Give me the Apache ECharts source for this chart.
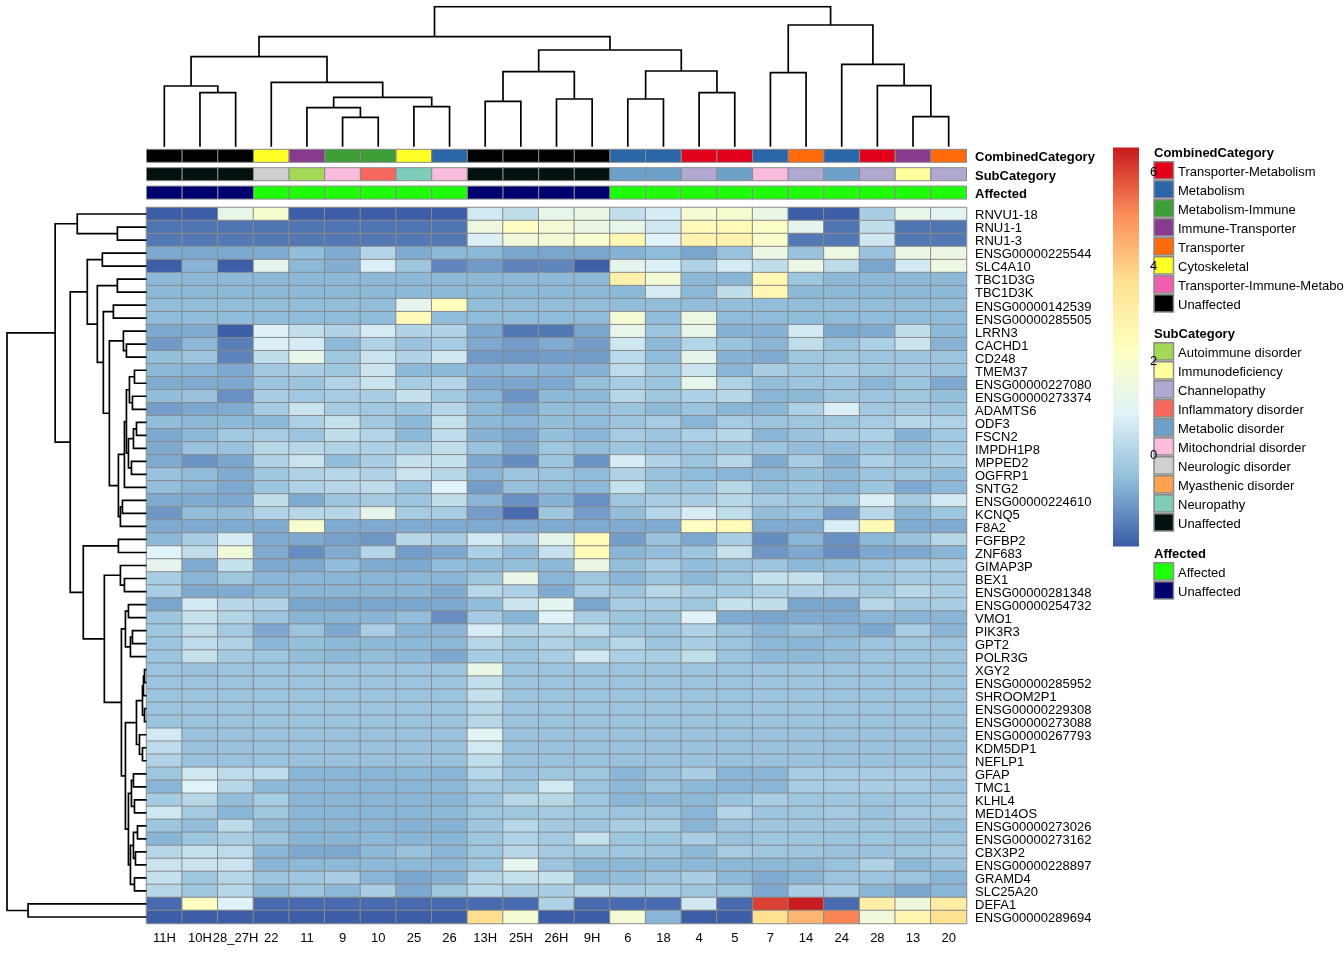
<!DOCTYPE html>
<html><head><meta charset="utf-8">
<script src="https://cdn.jsdelivr.net/npm/echarts@6.0.0/dist/echarts.min.js"></script>
<style>html,body{margin:0;padding:0;background:#fff}#c{width:1344px;height:960px}</style>
</head><body><div id="c"></div>
<script>
const samples = ["11H","10H","28_27H","22","11","9","10","25","26","13H","25H","26H","9H","6","18","4","5","7","14","24","28","13","20"];
const genes = ["RNVU1-18","RNU1-1","RNU1-3","ENSG00000225544","SLC4A10","TBC1D3G","TBC1D3K","ENSG00000142539","ENSG00000285505","LRRN3","CACHD1","CD248","TMEM37","ENSG00000227080","ENSG00000273374","ADAMTS6","ODF3","FSCN2","IMPDH1P8","MPPED2","OGFRP1","SNTG2","ENSG00000224610","KCNQ5","F8A2","FGFBP2","ZNF683","GIMAP3P","BEX1","ENSG00000281348","ENSG00000254732","VMO1","PIK3R3","GPT2","POLR3G","XGY2","ENSG00000285952","SHROOM2P1","ENSG00000229308","ENSG00000273088","ENSG00000267793","KDM5DP1","NEFLP1","GFAP","TMC1","KLHL4","MED14OS","ENSG00000273026","ENSG00000273162","CBX3P2","ENSG00000228897","GRAMD4","SLC25A20","DEFA1","ENSG00000289694"];
// expression values: one row per gene, columns in sample order
const values = [
[-1.95,-1.95,1.2,1.9,-1.95,-1.95,-1.95,-1.95,-1.95,0.6,0.3,1.2,1.3,0.35,0.7,1.8,1.9,1.3,-1.95,-1.95,-0.1,1.2,1.0],
[-1.6,-1.6,-1.6,-1.6,-1.6,-1.6,-1.6,-1.6,-1.6,1.5,2.2,1.7,1.3,1.2,0.55,2.5,2.5,2.1,1.1,-1.6,0.3,-1.6,-1.6],
[-1.55,-1.55,-1.55,-1.55,-1.55,-1.55,-1.55,-1.55,-1.55,0.75,1.6,1.7,1.9,2.6,0.85,2.8,2.8,2.0,-1.55,-1.55,0.55,-1.55,-1.55],
[-0.85,-0.85,-0.85,-0.8,-0.5,-0.8,0.1,-0.8,-0.6,-0.6,-0.9,-0.9,-0.9,-0.7,-0.55,-0.9,-0.4,1.3,-0.4,1.4,-0.4,1.35,1.35],
[-1.95,-0.65,-1.95,1.1,-0.6,-0.75,0.75,-0.3,-1.35,-1.05,-1.4,-1.35,-1.95,1.1,0.75,0.0,0.65,0.3,1.3,0.25,-0.9,0.6,1.4],
[-0.6,-0.6,-0.6,-0.6,-0.6,-0.6,-0.6,-0.6,-0.6,-0.6,-0.6,-0.6,-0.6,2.9,1.7,-0.6,-0.65,2.6,-0.3,-0.6,-0.6,-0.6,-0.6],
[-0.6,-0.6,-0.6,-0.6,-0.6,-0.6,-0.6,-0.6,-0.6,-0.6,-0.6,-0.6,-0.6,-0.6,0.65,-0.6,0.3,2.6,-0.6,-0.6,-0.6,-0.6,-0.6],
[-0.5,-0.5,-0.5,-0.5,-0.5,-0.5,-0.5,1.1,2.35,-0.5,-0.5,-0.5,-0.5,-0.5,-0.5,-0.5,-0.5,-0.5,-0.5,-0.5,-0.5,-0.5,-0.5],
[-0.55,-0.55,-0.55,-0.55,-0.55,-0.55,-0.55,2.5,-0.55,-0.55,-0.55,-0.55,-0.55,1.7,-0.55,1.4,-0.55,-0.55,-0.55,-0.55,-0.55,-0.55,-0.55],
[-0.85,-0.8,-1.95,0.8,0.35,0.05,0.65,0.05,0.05,-0.85,-1.55,-1.55,-0.9,1.2,-0.35,1.2,-0.7,-0.7,0.6,-0.85,-0.8,0.3,-0.6],
[-1.05,-0.6,-1.45,0.75,0.65,-0.6,0.0,-0.4,-0.15,-0.85,-1.0,-0.8,-1.0,0.55,-0.6,0.1,-0.35,-0.65,0.3,-0.35,-0.05,0.45,-0.7],
[-0.45,-0.35,-1.4,0.3,1.2,-0.3,0.45,0.05,0.55,-1.05,-1.1,-1.0,-1.0,0.2,-0.55,1.15,-0.7,-0.8,-0.3,-0.3,-0.35,-0.35,-0.35],
[-0.6,-0.65,-0.85,-0.25,-0.1,-0.3,0.5,-0.6,-0.6,-0.7,-0.65,-0.7,-0.7,0.25,-0.3,0.45,-0.65,-0.1,-0.3,-0.1,-0.3,-0.25,-0.35],
[-0.8,-0.8,-0.85,-0.35,-0.35,0.05,0.45,-0.15,0.1,-0.85,-0.9,-0.85,-0.45,-0.15,-0.35,1.15,0.0,-0.5,-0.35,-0.35,-0.65,-0.35,-0.85],
[-0.5,-0.4,-1.2,-0.1,-0.25,-0.15,-0.1,0.4,-0.25,-0.65,-1.15,-0.6,-0.6,0.15,-0.3,-0.05,0.15,-0.65,-0.6,-0.3,-0.35,-0.3,-0.45],
[-1.0,-0.85,-0.8,-0.15,0.45,-0.15,-0.25,-0.35,0.15,-0.6,-0.85,-0.5,-0.5,-0.35,-0.6,-0.35,-0.65,-0.65,-0.05,0.75,-0.25,-0.2,-0.35],
[-0.5,-0.6,-0.6,-0.6,-0.05,0.4,-0.25,-0.6,0.4,-0.6,-0.65,-0.5,-0.55,-0.35,-0.15,-0.65,-0.15,-0.35,-0.3,-0.3,-0.15,0.15,0.0],
[-0.85,-0.6,-0.25,-0.15,-0.35,0.3,0.1,-0.6,0.25,-0.7,-0.85,-0.45,-0.65,-0.15,-0.35,-0.05,0.15,-0.65,-0.4,-0.1,-0.05,-0.7,-0.25],
[-0.8,-0.4,-0.4,0.15,0.15,0.0,-0.05,-0.1,0.3,-0.4,-0.8,-0.3,-0.5,-0.3,-0.4,-0.35,-0.25,-0.35,-0.5,-0.5,-0.3,-0.5,-0.25],
[-0.8,-1.15,-0.9,0.0,0.45,-0.5,-0.1,0.4,0.4,-0.85,-1.25,-0.35,-1.15,0.7,0.0,-0.35,0.15,-0.8,-0.15,-0.7,-0.05,-0.35,-0.1],
[-0.4,-0.5,-0.8,-0.3,0.0,0.15,0.0,0.45,0.15,-0.65,-0.35,-0.35,-0.5,0.0,-0.4,-0.55,-0.65,-0.6,-0.45,-0.6,-0.35,-0.3,-0.5],
[-0.5,-0.65,-0.85,-0.3,0.0,0.15,0.25,-0.35,0.85,-1.0,-0.45,-0.5,-0.6,0.4,-0.3,-0.3,0.15,-0.5,-0.35,-0.65,-0.3,-0.85,-0.6],
[-0.8,-0.8,-0.85,0.3,-0.8,-0.35,-0.2,-0.35,0.3,-0.65,-1.2,-0.7,-1.2,-0.3,-0.1,-0.1,0.15,-0.2,-0.3,-0.3,0.75,-0.2,0.6],
[-1.1,-0.5,-0.5,0.05,0.15,0.15,1.15,-0.15,-0.15,-1.0,-1.75,-0.3,-1.0,-0.5,0.1,0.7,0.3,-0.5,-0.4,-1.0,0.15,-0.65,-0.3],
[-0.8,-0.8,-0.8,-0.8,1.9,-0.8,-0.8,-0.8,-0.8,-0.8,-0.8,-0.8,-0.8,-0.8,-0.8,2.2,2.5,-0.8,-0.8,0.7,2.5,-0.8,-0.8],
[-0.6,-0.1,0.7,-0.8,-0.85,-0.95,-1.1,0.15,-0.15,0.6,0.1,1.15,2.4,-1.0,-0.4,-0.85,-0.1,-1.25,-0.65,-1.2,-0.6,-0.4,0.15],
[0.85,0.3,1.6,-0.8,-1.25,-0.8,0.1,-1.0,-0.85,-0.05,-0.5,0.4,2.4,-0.65,-0.5,-0.3,0.4,-1.1,-0.85,-1.25,-0.85,-0.85,-0.65],
[1.1,-0.8,0.4,-0.85,-0.85,-0.5,-0.8,-0.85,-0.5,-0.6,-0.45,-0.6,1.3,-0.45,-0.1,-0.5,-0.4,-0.35,-0.6,-0.5,-0.35,-0.15,-0.1],
[-0.1,-0.65,-0.3,-0.65,-0.65,-0.65,-0.65,-0.65,-0.65,-0.3,1.25,-0.65,-0.3,-0.65,-0.35,-0.6,-0.3,0.4,0.4,-0.2,-0.3,-0.2,-0.2],
[-0.1,-0.8,-0.8,-0.65,-0.65,-0.65,-0.65,-0.65,-0.8,0.15,-0.05,-0.8,-0.1,-0.35,0.15,-0.1,-0.2,0.0,0.05,0.05,-0.2,0.15,-0.1],
[-0.9,0.6,0.15,0.0,-0.9,-0.9,-0.9,-0.9,-0.85,-0.5,0.5,1.05,-0.9,-0.15,-0.15,-0.3,0.4,0.3,-0.9,-0.9,0.15,-0.2,-0.1],
[-0.3,0.4,0.1,-0.35,-0.65,-0.65,-0.65,-0.5,-1.25,-0.15,-0.65,0.85,-0.1,-0.3,-0.3,0.85,-0.8,-0.9,-0.8,-0.8,-0.65,-0.65,-0.65],
[-0.3,0.3,-0.2,-0.85,-0.35,-0.85,-0.1,-0.65,-0.65,0.7,0.05,0.15,0.25,-0.35,-0.35,0.0,-0.35,-0.65,-0.45,-0.65,-0.85,-0.15,-0.65],
[-0.35,0.25,0.0,-0.65,-0.45,-0.6,-0.6,-0.6,-0.6,0.15,-0.3,0.0,-0.3,0.15,-0.35,-0.1,-0.35,-0.6,-0.65,-0.5,-0.35,-0.3,-0.35],
[-0.35,0.4,-0.2,-0.3,-0.5,-0.6,-0.5,-0.6,-0.85,-0.15,-0.35,-0.1,0.55,-0.05,-0.1,0.3,-0.35,-0.6,-0.6,-0.5,-0.35,-0.35,-0.35],
[-0.35,-0.4,-0.35,-0.35,-0.35,-0.35,-0.35,-0.35,-0.35,1.3,-0.35,-0.35,-0.35,-0.35,-0.35,-0.35,-0.35,-0.35,-0.35,-0.35,-0.35,-0.35,-0.35],
[-0.35,-0.35,-0.35,-0.35,-0.35,-0.35,-0.35,-0.35,-0.35,0.35,-0.35,-0.35,-0.35,-0.35,-0.35,-0.35,-0.35,-0.35,-0.35,-0.35,-0.35,-0.35,-0.35],
[-0.35,-0.35,-0.35,-0.35,-0.35,-0.35,-0.35,-0.35,-0.35,0.4,-0.35,-0.35,-0.35,-0.35,-0.35,-0.35,-0.35,-0.35,-0.35,-0.35,-0.35,-0.35,-0.35],
[-0.35,-0.35,-0.35,-0.35,-0.35,-0.35,-0.35,-0.35,-0.35,0.15,-0.35,-0.35,-0.35,-0.35,-0.35,-0.35,-0.35,-0.35,-0.35,-0.35,-0.35,-0.35,-0.35],
[-0.35,-0.35,-0.35,-0.35,-0.35,-0.35,-0.35,-0.35,-0.35,0.15,-0.35,-0.35,-0.35,-0.35,-0.35,-0.35,-0.35,-0.35,-0.35,-0.35,-0.35,-0.35,-0.35],
[0.6,-0.4,-0.4,-0.4,-0.4,-0.4,-0.4,-0.4,-0.4,0.95,-0.4,-0.4,-0.4,-0.4,-0.4,-0.4,-0.4,-0.4,-0.4,-0.4,-0.4,-0.4,-0.4],
[0.25,-0.4,-0.4,-0.4,-0.4,-0.4,-0.4,-0.4,-0.4,0.6,-0.4,-0.4,-0.4,-0.4,-0.4,-0.4,-0.4,-0.4,-0.4,-0.4,-0.4,-0.4,-0.4],
[0.05,-0.4,-0.4,-0.4,-0.4,-0.4,-0.4,-0.4,-0.4,0.3,-0.4,-0.4,-0.4,-0.4,-0.4,-0.4,-0.4,-0.4,-0.4,-0.4,-0.4,-0.4,-0.4],
[-0.3,0.55,0.25,0.25,-0.65,-0.65,-0.65,-0.6,-0.65,0.15,-0.4,-0.3,-0.3,-0.65,-0.4,-0.1,-0.65,-0.65,-0.15,-0.15,-0.15,-0.1,-0.2],
[-0.65,0.85,0.15,-0.6,-0.65,-0.65,-0.65,-0.65,-0.6,-0.2,-0.3,0.6,-0.35,-0.6,-0.35,-0.6,-0.65,-0.65,-0.15,-0.15,-0.1,-0.15,-0.35],
[-0.15,0.15,-0.5,-0.15,-0.65,-0.65,-0.65,-0.65,-0.65,-0.35,0.15,0.15,-0.3,-0.65,-0.6,-0.6,-0.35,-0.1,-0.3,-0.3,-0.35,-0.3,-0.2],
[0.55,-0.2,-0.65,-0.3,-0.65,-0.65,-0.65,-0.65,-0.6,-0.3,-0.3,-0.2,-0.3,-0.35,-0.35,-0.65,0.1,-0.35,-0.3,-0.2,-0.4,-0.2,-0.2],
[-0.3,-0.5,0.25,-0.5,-0.65,-0.65,-0.65,-0.7,-0.7,-0.3,0.15,-0.2,-0.3,-0.1,-0.1,-0.65,-0.35,-0.3,-0.3,-0.3,-0.3,-0.3,-0.45],
[-0.65,-0.3,-0.1,-0.35,-0.65,-0.65,-0.6,-0.65,-0.65,-0.3,0.0,-0.2,0.4,-0.3,-0.3,-0.1,-0.4,-0.3,-0.3,-0.35,-0.3,-0.4,-0.3],
[0.15,0.4,0.25,-0.65,-0.85,-0.85,-0.6,-0.4,-0.65,-0.3,0.15,-0.2,-0.3,-0.3,-0.35,-0.6,-0.15,-0.3,-0.35,-0.4,-0.4,-0.3,-0.2],
[0.45,0.45,0.45,-0.65,-0.6,-0.6,-0.6,-0.6,-0.6,-0.3,1.1,-0.35,-0.6,-0.6,-0.6,-0.6,-0.6,-0.6,-0.6,-0.4,0.0,-0.6,-0.4],
[0.4,-0.3,0.15,-0.35,-0.3,-0.1,-0.65,-0.9,-0.7,0.15,0.4,0.4,-0.6,-0.5,-0.35,-0.1,-0.6,-0.8,-0.65,-0.35,-0.35,-0.35,-0.65],
[0.15,-0.3,0.15,-0.6,-0.35,-0.6,-0.1,-0.85,-0.3,0.15,-0.1,-0.1,0.15,-0.1,-0.1,-0.3,-0.3,-0.85,-0.1,-0.15,-0.65,-0.9,-0.65],
[-1.75,2.2,0.85,-1.75,-1.75,-1.75,-1.75,-1.75,-1.75,-1.75,-1.75,0.0,-1.75,-1.75,-1.75,0.55,-1.75,6.0,6.45,-1.75,3.0,1.5,3.1],
[-1.95,-1.95,-1.95,-1.95,-1.95,-1.95,-1.95,-1.95,-1.95,3.7,1.75,-1.95,-1.95,1.75,-0.65,-1.95,-1.95,3.6,4.4,5.2,1.6,2.7,3.6]
];
const combinedCategory = ["Unaffected","Unaffected","Unaffected","Cytoskeletal","Immune-Transporter","Metabolism-Immune","Metabolism-Immune","Cytoskeletal","Metabolism","Unaffected","Unaffected","Unaffected","Unaffected","Metabolism","Metabolism","Transporter-Metabolism","Transporter-Metabolism","Metabolism","Transporter","Metabolism","Transporter-Metabolism","Immune-Transporter","Transporter"];
const subCategory = ["Unaffected","Unaffected","Unaffected","Neurologic disorder","Autoimmune disorder","Mitochondrial disorder","Inflammatory disorder","Neuropathy","Mitochondrial disorder","Unaffected","Unaffected","Unaffected","Unaffected","Metabolic disorder","Metabolic disorder","Channelopathy","Metabolic disorder","Mitochondrial disorder","Channelopathy","Metabolic disorder","Channelopathy","Immunodeficiency","Channelopathy"];
const affected = ["Unaffected","Unaffected","Unaffected","Affected","Affected","Affected","Affected","Affected","Affected","Unaffected","Unaffected","Unaffected","Unaffected","Affected","Affected","Affected","Affected","Affected","Affected","Affected","Affected","Affected","Affected"];
const combinedLevels = ["Transporter-Metabolism","Metabolism","Metabolism-Immune","Immune-Transporter","Transporter","Cytoskeletal","Transporter-Immune-Metabolism","Unaffected"];
const subLevels = ["Autoimmune disorder","Immunodeficiency","Channelopathy","Inflammatory disorder","Metabolic disorder","Mitochondrial disorder","Neurologic disorder","Myasthenic disorder","Neuropathy","Unaffected"];
const affectedLevels = ["Affected","Unaffected"];
const legendTicks = [0, 2, 4, 6];
// hclust-style merges: negative = leaf (1-based display order), positive = earlier merge; third = height
const colMerges = [
[-2,-3,54],[-1,1,60.7],[-6,-7,29.4],[-5,3,39],[-8,-9,40],[4,5,49.4],[-4,6,64.4],[2,7,90],
[-10,-11,45.4],[-12,-13,47.7],[9,10,75],[-14,-15,47.7],[-16,-17,54],[12,13,75.7],[11,14,96.7],[8,15,110],
[-18,-19,74],[-22,-23,30],[-21,18,61],[-20,19,82.4],[17,20,121.7],[16,21,140]
];
const rowMerges = [
[-2,-3,29],[-1,1,69],[-4,-5,44],[-6,-7,29],[-8,-9,33],[-11,-12,20],[-10,6,23],[-13,-14,12],
[-15,-16,14],[8,9,17],[-17,-18,10],[-19,11,13],[-20,-21,15],[12,13,18],[10,14,20],[15,-22,22],
[-23,-24,24],[17,-25,26],[16,18,28],[7,19,37],[5,20,43],[4,21,49],[3,22,59],[-26,-27,28],
[-29,-30,22],[-28,25,26],[-31,-32,18],[-33,-34,14],[28,-35,16],[27,29,21],[-36,-37,2],[31,-38,3],
[-39,-40,2],[32,33,4],[-42,-43,4],[-41,35,7],[34,36,10],[-44,-45,13],[-46,-47,12],[38,39,15],
[-48,-49,9],[-50,-51,11],[41,42,13],[-52,-53,12],[43,44,16],[40,45,18],[37,46,21],[30,47,25],
[26,48,42],[24,49,63],[23,50,76],[2,51,91],[-54,-55,118],[52,53,139]
];

// ---- styling ----
const FONT = '"Liberation Sans", Arial, Helvetica, sans-serif';
const palette = ["#3A5DA6","#8FBCDA","#E0F3F8","#FFFFBF","#FEE090","#FC8D59","#C8191E"];
const scaleMin = -1.96, scaleMax = 6.49;
const combinedColors = {"Transporter-Metabolism":"#E2001A","Metabolism":"#2A66A8","Metabolism-Immune":"#3E9E38","Immune-Transporter":"#873A8E","Transporter":"#FF6A0A","Cytoskeletal":"#FFFF26","Transporter-Immune-Metabolism":"#F25FB0","Unaffected":"#000000"};
const subColors = {"Autoimmune disorder":"#A3D955","Immunodeficiency":"#FFFF9E","Channelopathy":"#B0A8D0","Inflammatory disorder":"#F7695E","Metabolic disorder":"#6DA1CA","Mitochondrial disorder":"#F9BCDC","Neurologic disorder":"#D0D0D0","Myasthenic disorder":"#FFA24F","Neuropathy":"#7ECCBA","Unaffected":"#031210"};
const affectedColors = {"Affected":"#20FF0A","Unaffected":"#000070"};
const BORDER = '#8a8a8a';
const TXT_DY = 1.8;

const H = {left:146.5, top:207.5, width:820, height:716};

function dendroSegments(merges, horizontal) {
  const pos = [], hgt = [], segs = [];
  const get = r => r < 0 ? [(-r) - 1, 0] : [pos[r - 1], hgt[r - 1]];
  merges.forEach(([a, b, h], i) => {
    const [pa, ha] = get(a), [pb, hb] = get(b);
    let pts = [[pa, ha], [pa, h], [pb, h], [pb, hb]];
    if (horizontal) pts = pts.map(([p, q]) => [q, p]);
    segs.push({coords: pts});
    pos[i] = (pa + pb) / 2; hgt[i] = h;
  });
  return segs;
}

const heatData = [];
values.forEach((row, r) => row.forEach((v, c) => heatData.push([c, r, v])));

function annSeries(idx, arr, colors) {
  return {
    type: 'custom', xAxisIndex: idx, yAxisIndex: idx, silent: true,
    data: arr.map((v, i) => [i, 0]),
    renderItem: (params, api) => {
      const p = api.coord([api.value(0), api.value(1)]);
      const s = api.size([1, 1]);
      return {type: 'rect', shape: {x: p[0] - s[0] / 2, y: p[1] - s[1] / 2, width: s[0], height: s[1]},
        style: {fill: colors[arr[params.dataIndex]], stroke: BORDER, lineWidth: 1}};
    }
  };
}

const annTops = [149.3, 167.7, 186.1];
const annNames = ["CombinedCategory", "SubCategory", "Affected"];
const labelStyle = {fontSize: 13, color: '#000', fontFamily: FONT, margin: 8.5, align: 'left'};

const grids = [
  {left: H.left, top: H.top, width: H.width, height: H.height},
  {left: H.left, top: annTops[0], width: H.width, height: 13},
  {left: H.left, top: annTops[1], width: H.width, height: 13},
  {left: H.left, top: annTops[2], width: H.width, height: 13},
  {left: H.left, top: 6.7, width: H.width, height: 140},
  {left: 7, top: H.top, width: 139.5, height: H.height},
  // label-only grids (row names and annotation names), nudged to the text baseline of the reference
  {left: H.left, top: H.top + TXT_DY, width: H.width, height: H.height},
  {left: H.left, top: annTops[0] + TXT_DY, width: H.width, height: 13},
  {left: H.left, top: annTops[1] + TXT_DY, width: H.width, height: 13},
  {left: H.left, top: annTops[2] + TXT_DY, width: H.width, height: 13}
];

const xAxes = [
  {gridIndex: 0, type: 'category', data: samples, position: 'bottom', axisLine: {show: false}, axisTick: {show: false}, splitLine: {show: false},
   axisLabel: {interval: 0, fontSize: 13, color: '#000', fontFamily: FONT, margin: 8}},
  {gridIndex: 1, type: 'category', data: samples, show: false},
  {gridIndex: 2, type: 'category', data: samples, show: false},
  {gridIndex: 3, type: 'category', data: samples, show: false},
  {gridIndex: 4, type: 'value', min: -0.5, max: samples.length - 0.5, show: false},
  {gridIndex: 5, type: 'value', min: 0, max: 139, inverse: true, show: false},
  {gridIndex: 6, type: 'category', data: samples, show: false},
  {gridIndex: 7, type: 'category', data: samples, show: false},
  {gridIndex: 8, type: 'category', data: samples, show: false},
  {gridIndex: 9, type: 'category', data: samples, show: false}
];
const yAxes = [
  {gridIndex: 0, type: 'category', data: genes, inverse: true, show: false},
  {gridIndex: 1, type: 'category', data: [annNames[0]], show: false},
  {gridIndex: 2, type: 'category', data: [annNames[1]], show: false},
  {gridIndex: 3, type: 'category', data: [annNames[2]], show: false},
  {gridIndex: 4, type: 'value', min: 0, max: 140, show: false},
  {gridIndex: 5, type: 'value', min: -0.5, max: genes.length - 0.5, inverse: true, show: false},
  {gridIndex: 6, type: 'category', data: genes, inverse: true, position: 'right', axisLine: {show: false}, axisTick: {show: false}, splitLine: {show: false},
   axisLabel: Object.assign({interval: 0}, labelStyle)},
  ...annNames.map((n, i) => ({gridIndex: 7 + i, type: 'category', data: [n], position: 'right', axisLine: {show: false}, axisTick: {show: false},
   axisLabel: Object.assign({fontWeight: 'bold'}, labelStyle)}))
];

const series = [
  {type: 'heatmap', xAxisIndex: 0, yAxisIndex: 0, data: heatData, silent: true,
   itemStyle: {borderColor: BORDER, borderWidth: 1}, emphasis: {disabled: true}},
  annSeries(1, combinedCategory, combinedColors),
  annSeries(2, subCategory, subColors),
  annSeries(3, affected, affectedColors),
  {type: 'lines', coordinateSystem: 'cartesian2d', xAxisIndex: 4, yAxisIndex: 4, polyline: true, silent: true,
   data: dendroSegments(colMerges, false), lineStyle: {color: '#000', width: 1.7, opacity: 1}},
  {type: 'lines', coordinateSystem: 'cartesian2d', xAxisIndex: 5, yAxisIndex: 5, polyline: true, silent: true,
   data: dendroSegments(rowMerges, true), lineStyle: {color: '#000', width: 1.7, opacity: 1}}
];

// legends
const graphic = [];
const bar = {x: 1113, y: 147.5, w: 26, bottom: 546.5};
graphic.push({type: 'rect', silent: true, shape: {x: bar.x, y: bar.y, width: bar.w, height: bar.bottom - bar.y},
  style: {fill: new echarts.graphic.LinearGradient(0, 0, 0, 1, palette.slice().reverse().map((c, i) => ({offset: i / (palette.length - 1), color: c})))}});
function txt(x, y, text, bold) {
  return {type: 'text', silent: true, x: x, y: y + TXT_DY, z: 10,
    style: {text: text, font: (bold ? 'bold ' : '') + '13px ' + FONT, fill: '#000', align: 'left', verticalAlign: 'middle', textAlign: 'left', textVerticalAlign: 'middle'}};
}
legendTicks.forEach(v => {
  const y = bar.bottom - (v - scaleMin) / (scaleMax - scaleMin) * (bar.bottom - bar.y);
  graphic.push(txt(1150, y, String(v), false));
});
function catLegend(title, titleY, levels, colors) {
  graphic.push(txt(1154, titleY - 0.8, title, true));
  levels.forEach((lv, i) => {
    const top = titleY + 9.2 + i * 19;
    graphic.push({type: 'rect', silent: true, shape: {x: 1154, y: top, width: 19.5, height: 17.3},
      style: {fill: colors[lv], stroke: BORDER, lineWidth: 1.5}});
    graphic.push(txt(1178, top + 8.7, lv, false));
  });
}
catLegend("CombinedCategory", 152.5, combinedLevels, combinedColors);
catLegend("SubCategory", 333.5, subLevels, subColors);
catLegend("Affected", 553.5, affectedLevels, affectedColors);

const chart = echarts.init(document.getElementById('c'), null, {renderer: 'canvas'});
chart.setOption({
  animation: false,
  backgroundColor: '#fff',
  textStyle: {fontFamily: FONT},
  grid: grids, xAxis: xAxes, yAxis: yAxes,
  visualMap: {type: 'continuous', show: false, seriesIndex: 0, min: scaleMin, max: scaleMax, inRange: {color: palette}},
  series: series,
  graphic: graphic
});
</script></body></html>
